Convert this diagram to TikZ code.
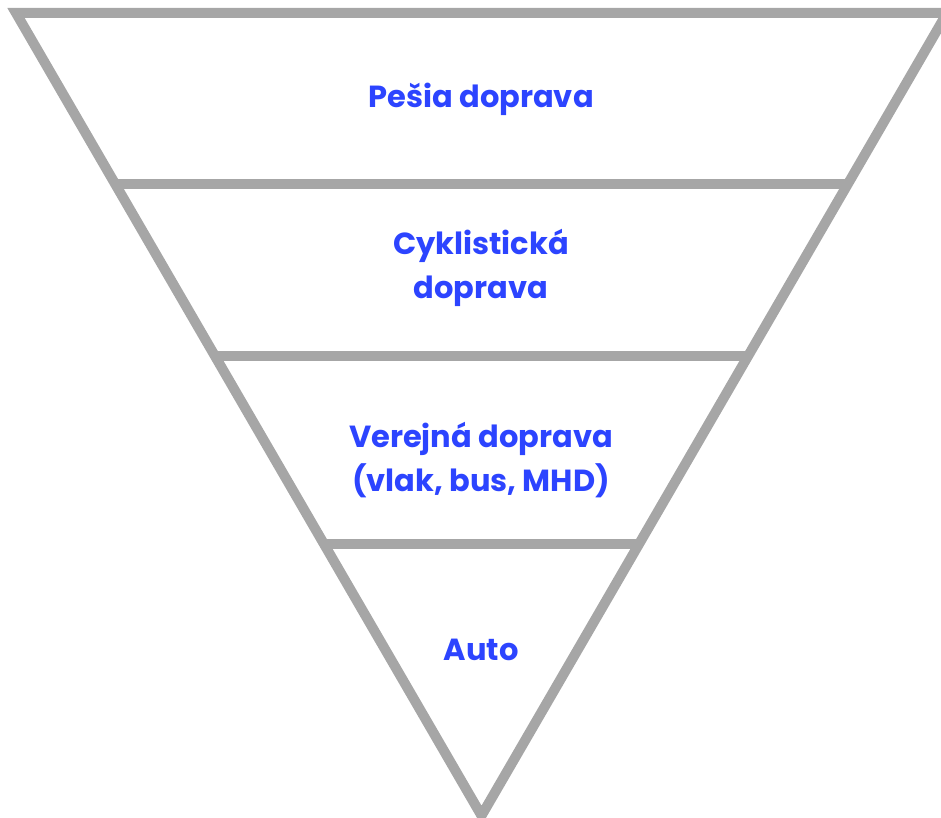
\documentclass[tikz,border=0pt]{standalone}
\usepackage{fontspec}
\setmainfont{Poppins}
\usetikzlibrary{calc}

\definecolor{funnelgray}{RGB}{166,166,166}
\definecolor{labelblue}{RGB}{44,68,255}

\tikzset{
    funnel/.style={funnelgray, line width=10pt, line join=miter},
    level/.style={text=labelblue, font=\bfseries\fontsize{30.5}{44}\selectfont, align=center},
}

\begin{document}
\begin{tikzpicture}[x=1pt, y=-1pt]
    \useasboundingbox (0,0) rectangle (941,818);

    % Outline of the funnel
    \coordinate (tl) at (16,13);
    \coordinate (tr) at (947,13);
    \coordinate (apex) at (481.5,815.6);
    \draw[funnel] (tl) -- (tr) -- (apex) -- cycle;

    % Dividers
    \draw[funnel] ($(tl)!0.2131!(apex)$) -- ($(tr)!0.2131!(apex)$);
    \draw[funnel] ($(tl)!0.4274!(apex)$) -- ($(tr)!0.4274!(apex)$);
    \draw[funnel] ($(tl)!0.6622!(apex)$) -- ($(tr)!0.6622!(apex)$);

    % Labels
    \node[level] (walk) at (481,99) {Pešia doprava};
    \node[level] (bike) at (481,268) {Cyklistická\\doprava};
    \node[level] (public) at (481,460) {Verejná doprava\\(vlak, bus, MHD)};
    \node[level] (car) at (481,650) {Auto};
\end{tikzpicture}
\end{document}
